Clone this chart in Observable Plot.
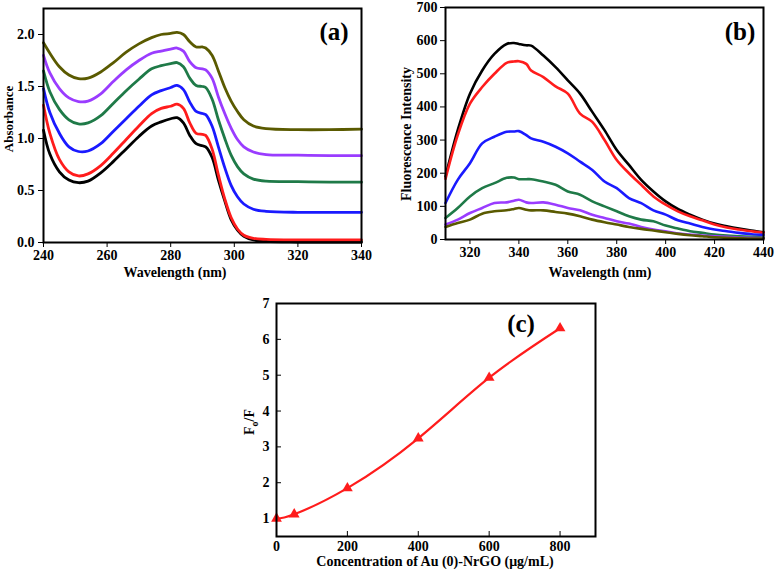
<!DOCTYPE html>
<html>
<head>
<meta charset="utf-8">
<script src="https://cdn.jsdelivr.net/npm/d3@7"></script>
<script src="https://cdn.jsdelivr.net/npm/@observablehq/plot@0.6"></script>
<style>
  html, body { margin: 0; padding: 0; background: white; }
  #wrap { position: relative; width: 776px; height: 576px; background: white; overflow: hidden;
          font-family: "Liberation Serif", "DejaVu Serif", serif; font-weight: bold; color: black; }
  .panel { position: absolute; }
  .lbl { position: absolute; white-space: nowrap; font-size: 14px; font-weight: bold; }
  .rot { transform: translate(-50%, -50%) rotate(-90deg); }
  .hcen { transform: translate(-50%, -50%); }
  .tag { position: absolute; font-size: 25px; font-weight: bold; transform: translate(-50%, -50%); }
</style>
</head>
<body>
<div id="wrap"></div>
<script>
// ---------- Panel (a): UV-Vis absorbance ----------
const seriesNames = ["s1", "s2", "s3", "s4", "s5", "s6"];
const seriesColors = ["#000000", "#ff1c1c", "#1a1aff", "#1f7a48", "#9a3cff", "#5a5a00"];

const absWavelength = [240, 242, 245, 248, 251, 254, 258, 262, 266, 270, 274, 277, 280, 282, 284, 286, 288, 290, 291, 293, 295, 297, 299, 301, 303, 306, 310, 320, 330, 340];
const absBlack  = [1.08, 0.85, 0.68, 0.60, 0.575, 0.59, 0.67, 0.78, 0.90, 1.02, 1.12, 1.16, 1.19, 1.20, 1.15, 1.03, 0.95, 0.93, 0.92, 0.82, 0.60, 0.40, 0.22, 0.12, 0.06, 0.025, 0.01, 0.005, 0.005, 0.005];
const absRed    = [1.32, 1.05, 0.80, 0.68, 0.64, 0.66, 0.74, 0.86, 0.99, 1.12, 1.24, 1.29, 1.31, 1.33, 1.29, 1.15, 1.05, 1.04, 1.03, 0.90, 0.65, 0.42, 0.24, 0.13, 0.07, 0.04, 0.03, 0.025, 0.025, 0.025];
const absBlue   = [1.48, 1.25, 1.05, 0.92, 0.875, 0.88, 0.95, 1.07, 1.19, 1.31, 1.42, 1.46, 1.49, 1.51, 1.47, 1.35, 1.26, 1.24, 1.23, 1.12, 0.92, 0.72, 0.55, 0.44, 0.37, 0.32, 0.30, 0.29, 0.29, 0.29];
const absGreen  = [1.65, 1.45, 1.28, 1.18, 1.14, 1.15, 1.22, 1.34, 1.46, 1.57, 1.67, 1.70, 1.72, 1.73, 1.69, 1.58, 1.51, 1.50, 1.49, 1.38, 1.18, 1.00, 0.84, 0.73, 0.66, 0.61, 0.59, 0.585, 0.58, 0.58];
const absPurple = [1.80, 1.63, 1.48, 1.39, 1.355, 1.36, 1.43, 1.55, 1.66, 1.75, 1.82, 1.84, 1.86, 1.87, 1.84, 1.74, 1.68, 1.67, 1.66, 1.58, 1.40, 1.24, 1.10, 0.99, 0.92, 0.87, 0.845, 0.84, 0.835, 0.835];
const absOlive  = [1.92, 1.82, 1.69, 1.61, 1.575, 1.58, 1.64, 1.73, 1.83, 1.91, 1.97, 2.00, 2.01, 2.02, 2.00, 1.93, 1.88, 1.88, 1.87, 1.80, 1.65, 1.49, 1.36, 1.26, 1.18, 1.12, 1.095, 1.085, 1.085, 1.09];
const absTicksX = [240, 260, 280, 300, 320, 340];
const absTicksY = [0, 0.5, 1.0, 1.5, 2.0];

// ---------- Panel (b): fluorescence ----------
const flWavelength = [310, 315, 320, 325, 330, 335, 338, 340, 343, 345, 350, 355, 360, 365, 370, 375, 380, 385, 390, 395, 400, 405, 410, 415, 420, 425, 430, 435, 440];
const flBlack  = [190, 330, 440, 510, 560, 590, 593, 590, 586, 585, 555, 520, 480, 440, 385, 330, 270, 225, 180, 145, 115, 92, 75, 60, 48, 40, 33, 27, 22];
const flRed    = [183, 315, 410, 460, 500, 533, 537, 538, 530, 510, 490, 462, 440, 380, 355, 300, 240, 200, 165, 130, 105, 85, 70, 58, 45, 36, 30, 25, 20];
const flBlue   = [110, 180, 230, 290, 310, 325, 326, 327, 315, 305, 295, 280, 260, 235, 210, 175, 155, 125, 110, 88, 75, 58, 48, 38, 30, 25, 20, 16, 14];
const flGreen  = [65, 95, 130, 155, 170, 186, 187, 182, 182, 182, 175, 165, 145, 135, 115, 100, 85, 70, 60, 55, 42, 33, 25, 20, 15, 12, 10, 8, 6];
const flPurple = [45, 60, 80, 95, 110, 112, 117, 120, 112, 110, 112, 105, 95, 88, 75, 65, 55, 48, 38, 30, 25, 18, 15, 12, 10, 8, 6, 5, 4];
const flOlive  = [38, 50, 60, 78, 85, 88, 92, 95, 90, 88, 88, 83, 78, 70, 60, 52, 45, 38, 32, 27, 22, 17, 13, 10, 7, 5, 4, 3, 3];
const flTicksX = [320, 340, 360, 380, 400, 420, 440];
const flTicksY = [0, 100, 200, 300, 400, 500, 600, 700];

// ---------- Panel (c): Stern-Volmer ----------
const concX = [0, 50, 200, 400, 600, 800];
const ratioY = [1.0, 1.12, 1.85, 3.24, 4.93, 6.31];
const concTicksX = [0, 200, 400, 600, 800];
const concTicksY = [1, 2, 3, 4, 5, 6, 7];

function rows(xs, list) {
  const out = [];
  list.forEach((vals, i) => vals.forEach((v, j) => out.push({x: xs[j], y: v, s: seriesNames[i]})));
  return out;
}

const baseStyle = {fontFamily: "Liberation Serif, DejaVu Serif, serif", fontWeight: "bold", fontSize: "14px", color: "black", background: "white", overflow: "visible"};

const absRows = rows(absWavelength, [absBlack, absRed, absBlue, absGreen, absPurple, absOlive]);
const plotA = Plot.plot({
  width: 385, height: 270,
  marginLeft: 43, marginRight: 24, marginTop: 8, marginBottom: 28,
  style: baseStyle,
  x: {domain: [240, 340], ticks: absTicksX, tickFormat: d3.format("d"), label: null, tickSize: 5, tickPadding: 3},
  y: {domain: [0, 2.25], ticks: absTicksY, tickFormat: d3.format(".1f"), label: null, tickSize: 5, tickPadding: 4},
  color: {domain: seriesNames, range: seriesColors},
  marks: [
    Plot.line(absRows, {x: "x", y: "y", z: "s", stroke: "s", strokeWidth: 2.8, curve: "catmull-rom"}),
    Plot.frame({stroke: "black", strokeWidth: 2})
  ]
});

const flRows = rows(flWavelength, [flBlack, flRed, flBlue, flGreen, flPurple, flOlive]);
const plotB = Plot.plot({
  width: 391, height: 270,
  marginLeft: 60, marginRight: 13, marginTop: 7, marginBottom: 31,
  style: baseStyle,
  x: {domain: [310, 440], ticks: flTicksX, tickFormat: d3.format("d"), label: null, tickSize: 5, tickPadding: 3},
  y: {domain: [0, 700], ticks: flTicksY, tickFormat: d3.format("d"), label: null, tickSize: 5, tickPadding: 3},
  color: {domain: seriesNames, range: seriesColors},
  marks: [
    Plot.line(flRows, {x: "x", y: "y", z: "s", stroke: "s", strokeWidth: 2.6, curve: "catmull-rom"}),
    Plot.frame({stroke: "black", strokeWidth: 2})
  ]
});

const cRows = concX.map((x, i) => ({x, y: ratioY[i]}));
const plotC = Plot.plot({
  width: 390, height: 296,
  marginLeft: 46, marginRight: 25, marginTop: 23, marginBottom: 40,
  style: baseStyle,
  x: {domain: [0, 900], ticks: concTicksX, tickFormat: d3.format("d"), label: null, tickSize: -5, tickPadding: 10},
  y: {domain: [0.5, 7], ticks: concTicksY, tickFormat: d3.format("d"), label: null, tickSize: -5, tickPadding: 12},
  marks: [
    Plot.line(cRows, {x: "x", y: "y", stroke: "#ff1c1c", strokeWidth: 2.2, curve: "natural"}),
    Plot.dot(cRows, {x: "x", y: "y", symbol: "triangle", r: 4, fill: "#ff1c1c", stroke: "none"}),
    Plot.frame({stroke: "black", strokeWidth: 2})
  ]
});

const wrap = document.getElementById("wrap");
function place(el, left, top) {
  el.classList.add("panel");
  el.style.left = left + "px";
  el.style.top = top + "px";
  wrap.appendChild(el);
}
place(plotA, 0, 0);
place(plotB, 385, 0);
place(plotC, 230, 280);

function label(text, x, y, cls, html, size) {
  const d = document.createElement("div");
  d.className = cls;
  if (html) d.innerHTML = text; else d.textContent = text;
  d.style.left = x + "px";
  d.style.top = y + "px";
  if (size) d.style.fontSize = size + "px";
  wrap.appendChild(d);
}
label("Wavelength (nm)", 175, 273, "lbl hcen");
label("Absorbance", 9, 119, "lbl rot", false, 13);
label("Wavelength (nm)", 600, 273, "lbl hcen");
label("Fluorescence Intensity", 407, 134, "lbl rot");
label("Concentration of Au (0)-NrGO (μg/mL)", 435, 562, "lbl hcen");
label("F<sub style='font-size:10px'>o</sub>/F", 251, 422, "lbl rot", true);
label("(a)", 334, 32, "tag");
label("(b)", 740, 32, "tag");
label("(c)", 521, 324, "tag");
</script>
</body>
</html>
